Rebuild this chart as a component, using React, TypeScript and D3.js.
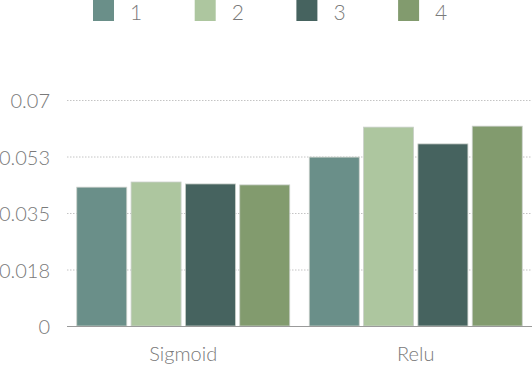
import {useEffect, useRef} from 'react'
import * as d3 from 'd3'

const groups = ['Sigmoid', 'Relu']
const seriesNames = ['1', '2', '3', '4']
const colors = ['#6a8f89', '#adc69f', '#46635f', '#829b6e']
const series1 = [0.0430, 0.0523]
const series2 = [0.0446, 0.0616]
const series3 = [0.0440, 0.0564]
const series4 = [0.0437, 0.0619]
const yTicks = [0, 0.0175, 0.035, 0.0525, 0.07]
const yTickLabels = ['0', '0.018', '0.035', '0.053', '0.07']

function App(){
    const svg = useRef<SVGSVGElement>(null)

    useEffect(() => {
        const width = 532
        const height = 366
        const margin = {top: 100, right: 0, bottom: 40, left: 67}
        const allSeries = [series1, series2, series3, series4]
        const font = 'Lato, "Open Sans", sans-serif'

        const svgRef = d3.select(svg.current)
            .attr('width', width)
            .attr('height', height)
            .style('position', 'absolute')
            .style('left', '0px')
            .style('top', '0px')

        svgRef.selectAll('*').remove()

        const x0 = d3.scaleBand()
            .domain(groups)
            .range([margin.left, width - margin.right])
            .paddingInner(0.084)
            .paddingOuter(0.042)

        const x1 = d3.scaleBand()
            .domain(seriesNames)
            .range([0, x0.bandwidth()])
            .paddingInner(0.08)
            .paddingOuter(0)

        const y = d3.scaleLinear()
            .domain([0, 0.07])
            .range([height - margin.bottom, margin.top])

        //Gridlines
        const grid = svgRef.append('g')
        grid.selectAll('line')
            .data(yTicks.slice(1))
            .join('line')
                .attr('x1', margin.left)
                .attr('x2', width)
                .attr('y1', d => y(d) + 0.5)
                .attr('y2', d => y(d) + 0.5)
                .attr('stroke', '#c4c4c4')
                .attr('stroke-width', 1)
                .attr('stroke-dasharray', '1.5,1.5')

        //Tick labels
        svgRef.append('g').selectAll('text')
            .data(yTicks)
            .join('text')
                .attr('x', 50)
                .attr('y', d => y(d))
                .attr('dominant-baseline', 'central')
                .attr('text-anchor', 'end')
                .attr('fill', '#7a7a7a')
                .style('font', `300 20px ${font}`)
                .text((d, i) => yTickLabels[i])

        //Bars
        groups.forEach((group, gi) => {
            const g = svgRef.append('g')
                .attr('transform', `translate(${x0(group)},0)`)
            g.selectAll('rect')
                .data(allSeries.map(s => s[gi]))
                .join('rect')
                    .attr('x', (d, i) => x1(seriesNames[i]) as number)
                    .attr('y', d => y(d))
                    .attr('width', x1.bandwidth())
                    .attr('height', d => y(0) - y(d))
                    .attr('fill', (d, i) => colors[i])
                    .attr('stroke', '#c9cfc9')
                    .attr('stroke-width', 0.8)
        })

        //Baseline
        svgRef.append('line')
            .attr('x1', margin.left)
            .attr('x2', width)
            .attr('y1', y(0) + 0.5)
            .attr('y2', y(0) + 0.5)
            .attr('stroke', '#9a9a9a')
            .attr('stroke-width', 1)

        //Category labels
        svgRef.append('g').selectAll('text')
            .data(groups)
            .join('text')
                .attr('x', d => (x0(d) as number) + x0.bandwidth() / 2)
                .attr('y', 353)
                .attr('dominant-baseline', 'central')
                .attr('text-anchor', 'middle')
                .attr('fill', '#7a7a7a')
                .style('font', `300 20px ${font}`)
                .text(d => d)

        //Legend
        const legend = svgRef.append('g')
        seriesNames.forEach((name, i) => {
            const lx = 93 + i * 101.7
            legend.append('rect')
                .attr('x', lx)
                .attr('y', 0)
                .attr('width', 21)
                .attr('height', 21)
                .attr('fill', colors[i])
            legend.append('text')
                .attr('x', lx + 37)
                .attr('y', 11)
                .attr('dominant-baseline', 'central')
                .attr('fill', '#7a7a7a')
                .style('font', `300 21px ${font}`)
                .text(name)
        })
    }, [])

    return(
        <svg ref={svg}></svg>
    )
}

export default App
